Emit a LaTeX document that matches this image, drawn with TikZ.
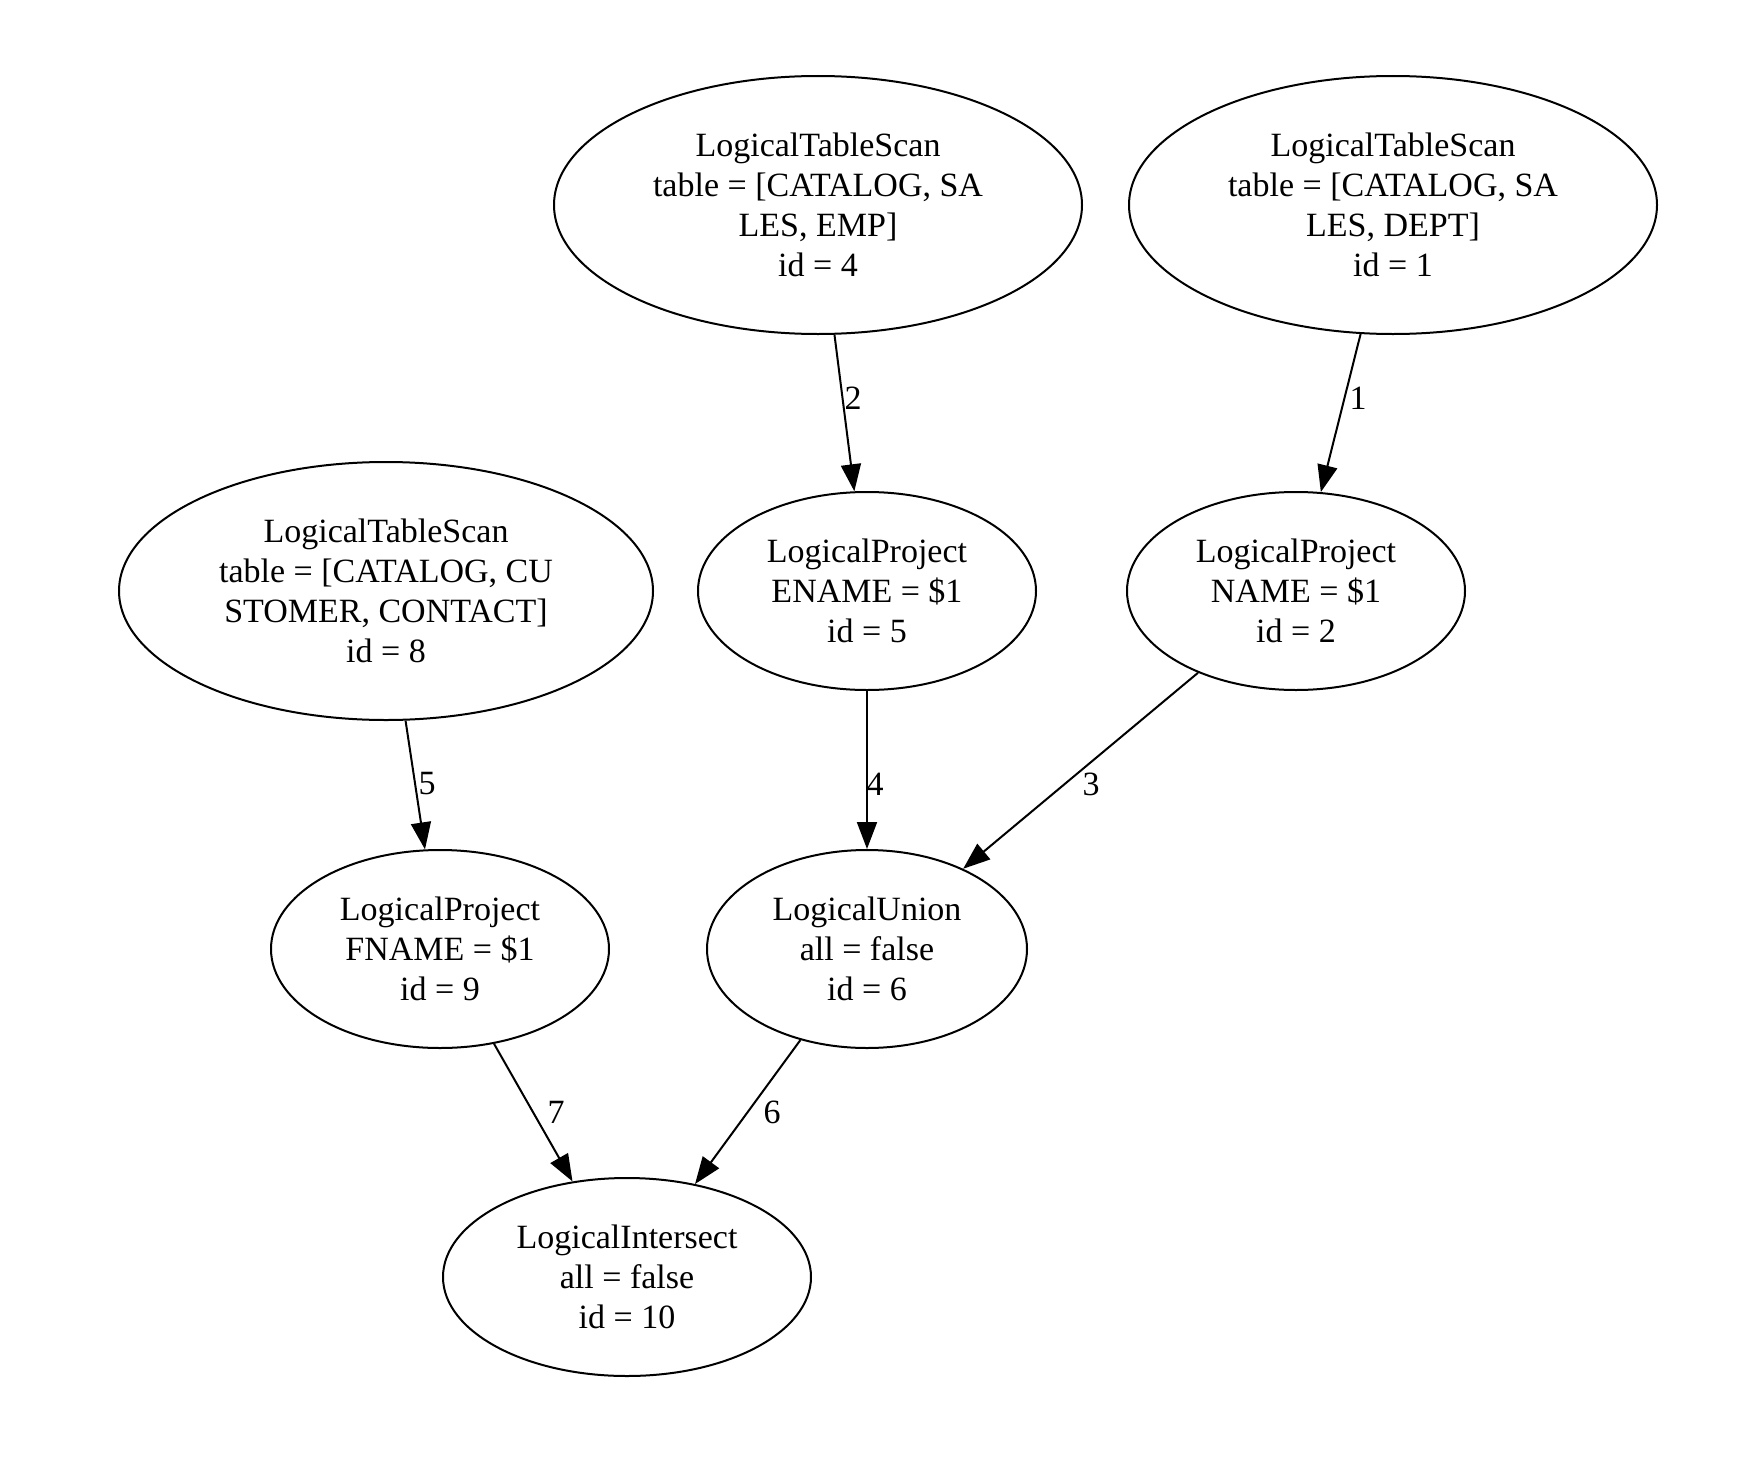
\documentclass[tikz,border=0pt]{standalone}
\usepackage{fontspec}
\setmainfont{Liberation Serif}
\usetikzlibrary{shapes.geometric,arrows.meta}
\tikzset{
  op/.style={ellipse, draw, line width=2pt, inner sep=0pt, align=center,
    font=\fontsize{34}{40}\selectfont},
  big/.style={op, minimum width=528pt, minimum height=258pt},
  mid/.style={op, minimum width=338pt, minimum height=198pt},
  edge/.style={line width=2pt, -{Triangle[length=27pt,width=20pt]}},
  lab/.style={font=\fontsize{34}{40}\selectfont, inner sep=0pt}
}
\begin{document}
\begin{tikzpicture}[x=1pt,y=-1pt]
\useasboundingbox (0,0) rectangle (1746,1464);
\node[big] (emp) at (818,205) {LogicalTableScan\\table = [CATALOG, SA\\LES, EMP]\\id = 4};
\node[big] (dept) at (1393,205) {LogicalTableScan\\table = [CATALOG, SA\\LES, DEPT]\\id = 1};
\node[big, minimum width=534pt] (contact) at (386,591) {LogicalTableScan\\table = [CATALOG, CU\\STOMER, CONTACT]\\id = 8};
\node[mid] (ename) at (867,591) {LogicalProject\\ENAME = \$1\\id = 5};
\node[mid] (name) at (1296,591) {LogicalProject\\NAME = \$1\\id = 2};
\node[mid] (fname) at (440,949) {LogicalProject\\FNAME = \$1\\id = 9};
\node[mid, minimum width=320pt] (union) at (867,949) {LogicalUnion\\all = false\\id = 6};
\node[mid, minimum width=368pt] (inter) at (627,1277) {LogicalIntersect\\all = false\\id = 10};
\draw[edge] (emp) -- (ename);
\draw[edge] (dept) -- (name);
\draw[edge] (contact) -- (fname);
\draw[edge] (ename) -- (union);
\draw[edge] (name) -- (union);
\draw[edge] (fname) -- (inter);
\draw[edge] (union) -- (inter);
\node[lab] (l2) at (853,398) {2};
\node[lab] (l1) at (1358,398) {1};
\node[lab] (l5) at (427,784) {5};
\node[lab] (l4) at (875,784) {4};
\node[lab] (l3) at (1091,784) {3};
\node[lab] (l7) at (556,1112) {7};
\node[lab] (l6) at (772,1112) {6};
\end{tikzpicture}
\end{document}
